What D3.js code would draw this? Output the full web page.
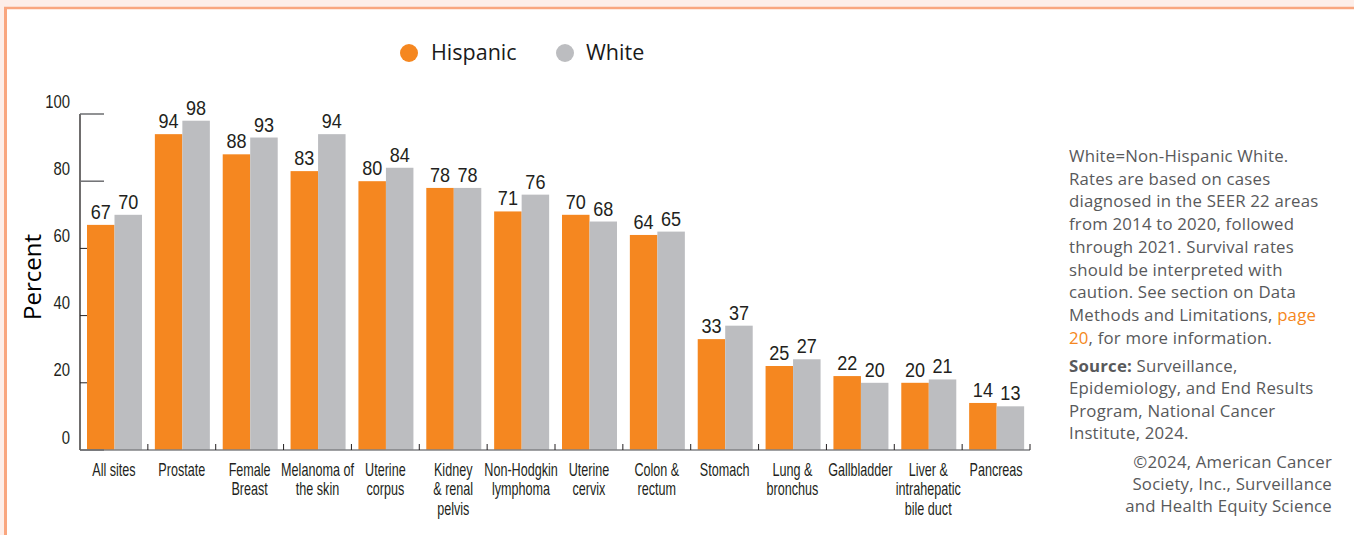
<!DOCTYPE html>
<html>
<head>
<meta charset="utf-8">
<script src="https://cdn.jsdelivr.net/npm/d3@7"></script>
<style>
  html, body { margin: 0; padding: 0; background: #fdeee9; }
  svg { display: block; }
  .cond { font-family: "Liberation Sans", Arial, sans-serif; }
  .sans { font-family: "Open Sans", "Noto Sans", sans-serif; }
</style>
</head>
<body>
<svg id="chart" width="1354" height="535"></svg>
<script>
// Five-year relative survival, Hispanic vs. non-Hispanic White, by cancer site
const categories = [
  "All sites", "Prostate", "Female Breast", "Melanoma of the skin", "Uterine corpus",
  "Kidney & renal pelvis", "Non-Hodgkin lymphoma", "Uterine cervix", "Colon & rectum",
  "Stomach", "Lung & bronchus", "Gallbladder", "Liver & intrahepatic bile duct", "Pancreas"
];
const categoryLines = [
  ["All sites"], ["Prostate"], ["Female", "Breast"], ["Melanoma of", "the skin"],
  ["Uterine", "corpus"], ["Kidney", "& renal", "pelvis"], ["Non-Hodgkin", "lymphoma"],
  ["Uterine", "cervix"], ["Colon &", "rectum"], ["Stomach"], ["Lung &", "bronchus"],
  ["Gallbladder"], ["Liver &", "intrahepatic", "bile duct"], ["Pancreas"]
];
const seriesNames = ["Hispanic", "White"];
const hispanic = [67, 94, 88, 83, 80, 78, 71, 70, 64, 33, 25, 22, 20, 14];
const white = [70, 98, 93, 94, 84, 78, 76, 68, 65, 37, 27, 20, 21, 13];
const yTicks = [0, 20, 40, 60, 80, 100];

const colors = { Hispanic: "#f58720", White: "#bcbdc0" };
const textColor = "#231f20";
const noteColor = "#58595b";
const accent = "#f58720";

const svg = d3.select("#chart");

// page frame: pink surround, white panel with salmon border on top and left
svg.append("rect").attr("x", 0).attr("y", 0).attr("width", 1354).attr("height", 535).attr("fill", "#fdeee9");
svg.append("rect").attr("x", 5).attr("y", 8).attr("width", 1354).attr("height", 535).attr("fill", "#ffffff");
svg.append("line").attr("x1", 5.5).attr("x2", 5.5).attr("y1", 7).attr("y2", 535)
  .attr("stroke", "#f9a67f").attr("stroke-width", 3);
svg.append("line").attr("x1", 4).attr("x2", 1354).attr("y1", 8).attr("y2", 8)
  .attr("stroke", "#f9a67f").attr("stroke-width", 2.5);

// scales
const x0 = d3.scaleBand().domain(categories).range([80, 1030]).padding(0);
const x1 = d3.scaleBand().domain(seriesNames).range([7, 62]).padding(0);
const y = d3.scaleLinear().domain([0, 100]).range([450, 114]);

const rows = categories.map((c, i) => ({
  category: c,
  lines: categoryLines[i],
  values: [
    { series: "Hispanic", value: hispanic[i] },
    { series: "White", value: white[i] }
  ]
}));

// bars and value labels
const groups = svg.append("g").selectAll("g").data(rows).join("g")
  .attr("transform", d => `translate(${x0(d.category)},0)`);

groups.selectAll("rect").data(d => d.values).join("rect")
  .attr("x", d => x1(d.series))
  .attr("y", d => y(d.value))
  .attr("width", x1.bandwidth())
  .attr("height", d => y(0) - y(d.value))
  .attr("fill", d => colors[d.series]);

// condensed labels: horizontally compressed text
groups.selectAll("g.value").data(d => d.values).join("g")
  .attr("class", "value")
  .attr("transform", d => `translate(${x1(d.series) + x1.bandwidth() / 2},${y(d.value) - 6}) scale(0.86,1)`)
  .append("text")
  .attr("class", "cond")
  .attr("text-anchor", "middle")
  .attr("font-size", 21)
  .attr("fill", textColor)
  .text(d => d.value);

// category labels
groups.append("g")
  .attr("transform", `translate(${x0.bandwidth() / 2},476) scale(0.72,1)`)
  .append("text")
  .attr("class", "cond")
  .attr("text-anchor", "middle")
  .attr("font-size", 17.5)
  .attr("fill", textColor)
  .selectAll("tspan").data(d => d.lines).join("tspan")
  .attr("x", 0)
  .attr("y", (d, i) => i * 19.5)
  .text(d => d);

// x baseline with small separators between categories
const axisG = svg.append("g");
axisG.append("line")
  .attr("x1", 80).attr("x2", 1030).attr("y1", y(0)).attr("y2", y(0))
  .attr("stroke", "#808285").attr("stroke-width", 1.5);
axisG.selectAll("line.sep").data(categories).join("line")
  .attr("class", "sep")
  .attr("x1", d => x0(d) + x0.bandwidth()).attr("x2", d => x0(d) + x0.bandwidth())
  .attr("y1", y(0)).attr("y2", y(0) - 6)
  .attr("stroke", "#231f20").attr("stroke-width", 1);

// y axis: line, ticks, labels sitting just above each tick
const yAxisG = svg.append("g");
yAxisG.append("line")
  .attr("x1", 80).attr("x2", 80).attr("y1", y(100)).attr("y2", y(0))
  .attr("stroke", "#231f20").attr("stroke-width", 1.3);
yAxisG.selectAll("line.tick").data(yTicks).join("line")
  .attr("class", "tick")
  .attr("x1", 80)
  .attr("x2", d => (d >= 80 || d === 0) ? 104 : 87)
  .attr("y1", d => y(d)).attr("y2", d => y(d))
  .attr("stroke", d => (d >= 80 || d === 0) ? "#6d6e71" : "#231f20")
  .attr("stroke-width", d => (d >= 80 || d === 0) ? 1.5 : 1);
yAxisG.selectAll("g.ylabel").data(yTicks).join("g")
  .attr("class", "ylabel")
  .attr("transform", d => `translate(70,${y(d) - 6.5}) scale(0.85,1)`)
  .append("text")
  .attr("class", "cond")
  .attr("text-anchor", "end")
  .attr("font-size", 17.5)
  .attr("fill", textColor)
  .text(d => d);

svg.append("text")
  .attr("class", "sans")
  .attr("transform", "translate(41,277) rotate(-90)")
  .attr("text-anchor", "middle")
  .attr("font-size", 24)
  .attr("fill", "#000")
  .text("Percent");

// legend
const legendItems = [
  { name: "Hispanic", cx: 409, tx: 431 },
  { name: "White", cx: 565, tx: 586 }
];
const legend = svg.append("g");
legend.selectAll("circle").data(legendItems).join("circle")
  .attr("cx", d => d.cx).attr("cy", 53).attr("r", 9)
  .attr("fill", d => colors[d.name]);
legend.selectAll("text").data(legendItems).join("text")
  .attr("class", "sans")
  .attr("x", d => d.tx).attr("y", 60)
  .attr("font-size", 21.5)
  .attr("fill", "#1a1a1a")
  .text(d => d.name);

// notes panel
const notes = svg.append("g").attr("class", "sans")
  .attr("font-size", 16.8).attr("letter-spacing", 0.2).attr("fill", noteColor);
const noteLines = [
  ["White=Non-Hispanic White."],
  ["Rates are based on cases"],
  ["diagnosed in the SEER 22 areas"],
  ["from 2014 to 2020, followed"],
  ["through 2021. Survival rates"],
  ["should be interpreted with"],
  ["caution. See section on Data"],
  ["Methods and Limitations, ", { t: "page", c: accent }],
  [{ t: "20", c: accent }, ", for more information."]
];
noteLines.forEach((parts, i) => {
  const t = notes.append("text").attr("x", 1069).attr("y", 162 + i * 22.7);
  parts.forEach(p => {
    if (typeof p === "string") t.append("tspan").text(p);
    else t.append("tspan").attr("fill", p.c).text(p.t);
  });
});

const sourceLines = [
  "Surveillance,",
  "Epidemiology, and End Results",
  "Program, National Cancer",
  "Institute, 2024."
];
sourceLines.forEach((s, i) => {
  const t = notes.append("text").attr("x", 1069).attr("y", 371.5 + i * 22.6);
  if (i === 0) {
    t.append("tspan").attr("font-weight", "bold").text("Source:");
    t.append("tspan").text(" " + s);
  } else {
    t.text(s);
  }
});

const creditLines = [
  "\u00A92024, American Cancer",
  "Society, Inc., Surveillance",
  "and Health Equity Science"
];
creditLines.forEach((s, i) => {
  notes.append("text").attr("x", 1332).attr("y", 468 + i * 22.2)
    .attr("text-anchor", "end").text(s);
});
</script>
</body>
</html>
